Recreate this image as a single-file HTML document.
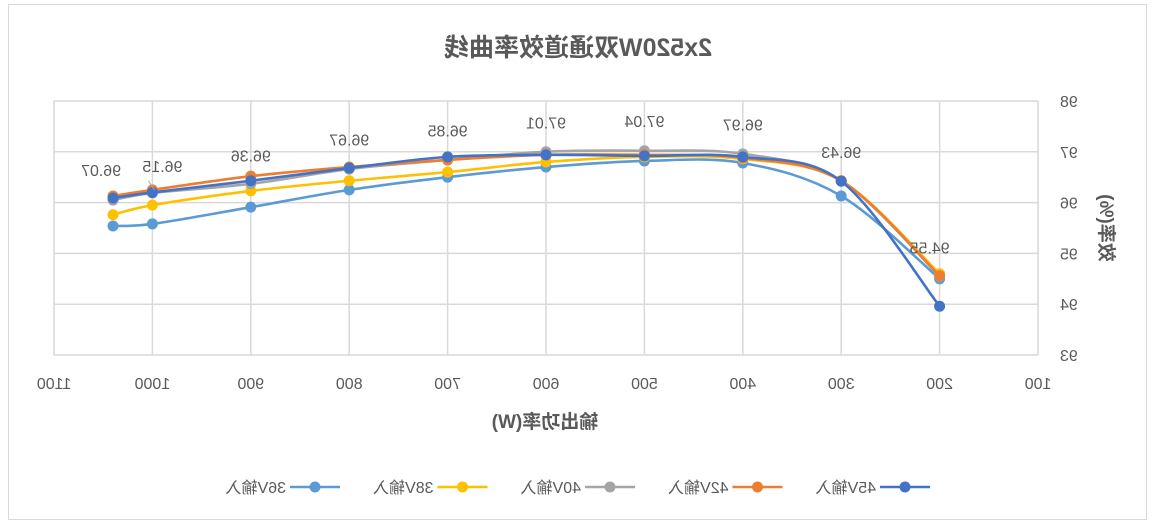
<!DOCTYPE html>
<html><head><meta charset="utf-8">
<style>
html,body{margin:0;padding:0;background:#fff;}
#wrap{width:1156px;height:527px;transform:scaleX(-1);}
svg text{font-family:"Liberation Sans","Noto Sans CJK SC",sans-serif;fill:#595959;}
</style></head><body>
<div id="wrap">
<svg id="chart" width="1156" height="527">
<rect x="9.5" y="4.5" width="1138" height="515" fill="#fff" stroke="#d9d9d9"/>
<text x="578" y="56" text-anchor="middle" font-size="25" font-weight="bold">2x520W双通道效率曲线</text>
<text x="611" y="428" text-anchor="middle" font-size="19" font-weight="bold">输出功率(W)</text>
<text transform="translate(56,228) rotate(-90)" text-anchor="middle" font-size="19" font-weight="bold">效率(%)</text>
<g id="grid"></g><g id="series"></g><g id="labels"></g><g id="legend"></g>
</svg>
</div>
<script>
const categories=[1040,1000,900,800,700,600,500,400,300,200];
const xTicks=[1100,1000,900,800,700,600,500,400,300,200,100];
const yTicks=[93,94,95,96,97,98];
const seriesNames=["36V输入","38V输入","40V输入","42V输入","45V输入"];
const v36=[95.54,95.58,95.91,96.25,96.5,96.7,96.82,96.78,96.13,94.5];
const v38=[95.76,95.95,96.23,96.43,96.6,96.8,96.9,96.86,96.43,94.6];
const v40=[96.05,96.19,96.37,96.66,96.84,97.0,97.02,96.96,96.43,94.55];
const v42=[96.13,96.25,96.52,96.7,96.84,96.94,96.94,96.88,96.43,94.56];
const v45=[96.09,96.2,96.43,96.68,96.9,96.94,96.92,96.9,96.42,93.96];
const dataLabels=[96.07,96.15,96.36,96.67,96.85,97.01,97.04,96.97,96.43,94.55];
const colors=["#5B9BD5","#FFC000","#A5A5A5","#ED7D31","#4472C4"];
const NS="http://www.w3.org/2000/svg";
const PL=1156-1038, PR=1156-54, PT=101, PB=355;
function xs(w){return PL+(w-100)/1000*(PR-PL);}
function ys(v){return PB-(v-93)/5*(PB-PT);}
function mk(tag,attrs,parent){const e=document.createElementNS(NS,tag);for(const k in attrs)e.setAttribute(k,attrs[k]);parent.appendChild(e);return e;}
const grid=document.getElementById('grid');
yTicks.forEach(t=>{
 const l=mk('line',{x1:PL,x2:PR,y1:ys(t),y2:ys(t),stroke:'#d9d9d9','stroke-width':1.5},grid);
 
 
 const tx=mk('text',{x:PL-22,y:ys(t)+6,'text-anchor':'end','font-size':16},grid);tx.textContent=t;
 
 
});
xTicks.forEach(t=>{
 const l=mk('line',{x1:xs(t),x2:xs(t),y1:PT,y2:PB,stroke:'#d9d9d9','stroke-width':1.5},grid);
 
 
 const tx=mk('text',{x:xs(t),y:389,'text-anchor':'middle','font-size':16},grid);tx.textContent=t;
 
 
});
function smooth(pts){
 let d='M'+pts[0][0]+','+pts[0][1];
 for(let i=0;i<pts.length-1;i++){
  const p0=pts[i-1]||pts[i],p1=pts[i],p2=pts[i+1],p3=pts[i+2]||p2;
  const c1=[p1[0]+(p2[0]-p0[0])/6,p1[1]+(p2[1]-p0[1])/6];
  const c2=[p2[0]-(p3[0]-p1[0])/6,p2[1]-(p3[1]-p1[1])/6];
  d+=` C${c1[0]},${c1[1]} ${c2[0]},${c2[1]} ${p2[0]},${p2[1]}`;
 }
 return d;
}
const sg=document.getElementById('series');
[v36,v38,v40,v42,v45].forEach((vals,si)=>{
 const pts=vals.map((v,i)=>[xs(categories[i]),ys(v)]);
 const p=mk('path',{d:smooth(pts),fill:'none',stroke:colors[si],'stroke-width':2.6},sg);
 
 
 pts.forEach(pt=>{
  const c=mk('circle',{cx:pt[0],cy:pt[1],r:5.5,fill:colors[si]},sg);
  
  
 });
});
const lg=document.getElementById('labels');
dataLabels.forEach((v,i)=>{
 let dx=0;
 if(i===0)dx=12; if(i===1)dx=-10; if(i===9)dx=10;
 const t=mk('text',{x:xs(categories[i])+dx,y:ys(v)-23,'text-anchor':'middle','font-size':16},lg);
 t.textContent=v.toFixed(2);
 
 
 if(i===1){
  const l=mk('line',{x1:xs(categories[i])-2,y1:ys(v)-5,x2:xs(categories[i])+4,y2:ys(v)-14,stroke:'#a6a6a6','stroke-width':1},lg);
  
  
 }
});
const leg=document.getElementById('legend');
[4,3,2,1,0].forEach((si,k)=>{
 const x0=226+k*147.5,y=487;
 const l=mk('line',{x1:x0,x2:x0+50,y1:y,y2:y,stroke:colors[si],'stroke-width':2.6},leg);
 
 
 const c=mk('circle',{cx:x0+25,cy:y,r:5.5,fill:colors[si]},leg);
 
 
 const t=mk('text',{x:x0+54,y:y+6,'font-size':16},leg);t.textContent=seriesNames[si];
 
 
});
</script>
</body></html>
